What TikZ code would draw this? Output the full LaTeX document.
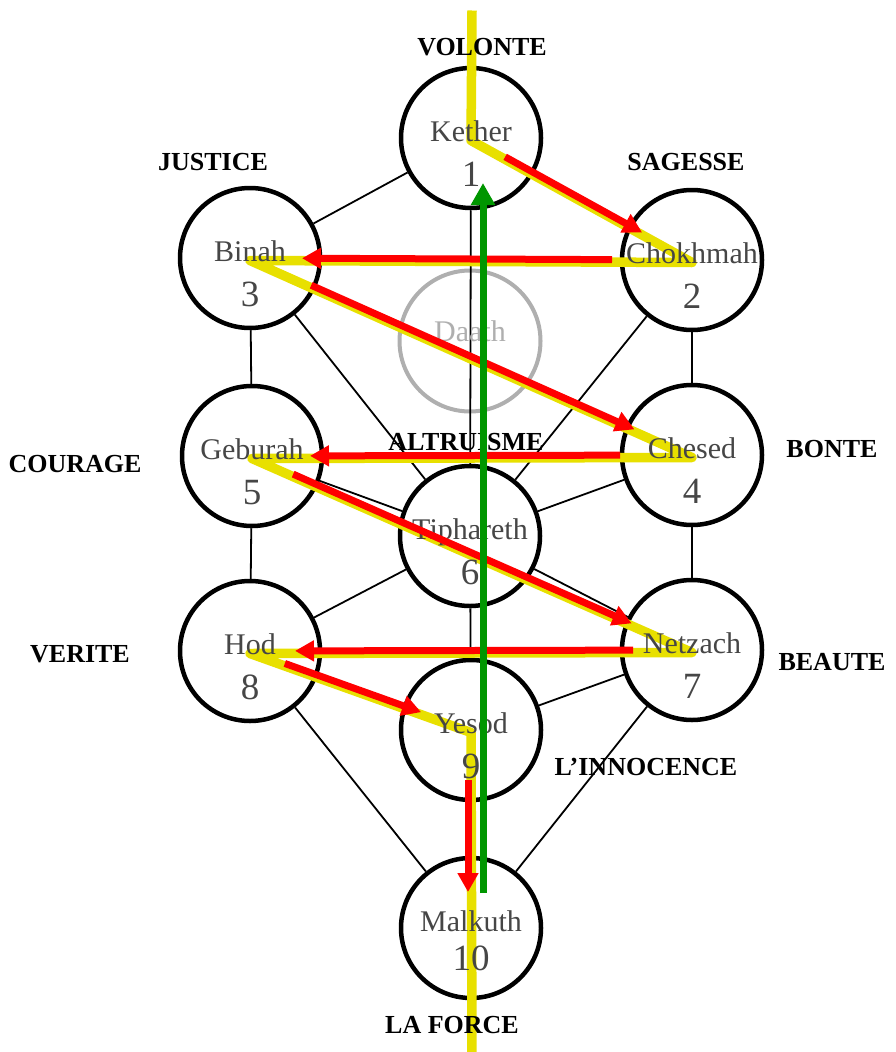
\documentclass[tikz,border=0pt]{standalone}
\usepackage{fontspec}
\setmainfont{Liberation Serif}
\usetikzlibrary{arrows.meta}

\definecolor{bolt}{RGB}{232,224,0}
\definecolor{namegray}{RGB}{70,70,70}
\definecolor{daathgray}{RGB}{175,175,175}
\definecolor{upgreen}{RGB}{0,150,0}

\begin{document}
\begin{tikzpicture}[x=1pt,y=-1pt,
    nametext/.style={font=\fontsize{30}{30}\selectfont, text=namegray, anchor=base, inner sep=0pt},
    numtext/.style={font=\fontsize{37}{37}\selectfont, text=namegray, anchor=base, inner sep=0pt},
    virtue/.style={font=\fontsize{26}{26}\selectfont\bfseries, anchor=base, inner sep=0pt},
    redarrow/.style={draw=red, line width=7pt, -{Triangle[length=19pt,width=20pt]}},
    greenarrow/.style={draw=upgreen, line width=7pt, -{Triangle[length=22pt,width=23pt]}}]

      \useasboundingbox (0,0) rectangle (895,1052);

      \begin{scope}[every node/.style={circle, draw, line width=4.5pt, fill=white, minimum size=140pt, inner sep=0pt}]
        \node (1)  at (471,138) {};
        \node (2)  at (692,260) {};
        \node (3)  at (250,258) {};
        \node (4)  at (692,455) {};
        \node (5)  at (252,456) {};
        \node (6)  at (470,536) {};
        \node (7)  at (692,650) {};
        \node (8)  at (250,651) {};
        \node (9)  at (471,730) {};
        \node (10) at (471,928) {};
      \end{scope}
      \node[circle, draw=daathgray, line width=4pt, minimum size=141pt, inner sep=0pt] (d) at (470,341) {};

      \coordinate (top)    at (472,8);
      \coordinate (bottom) at (472,1052);

      % the 22 paths
      \begin{scope}[every edge/.style={draw, line width=1.8pt}]
        \path (1) edge (2);
        \path (1) edge (3);
        \path (1) edge (6);
        \path (2) edge (3);
        \path (2) edge (4);
        \path (2) edge (6);
        \path (3) edge (5);
        \path (3) edge (6);
        \path (4) edge (5);
        \path (4) edge (6);
        \path (4) edge (7);
        \path (5) edge (6);
        \path (5) edge (8);
        \path (6) edge (7);
        \path (6) edge (8);
        \path (6) edge (9);
        \path (7) edge (8);
        \path (7) edge (9);
        \path (7) edge (10);
        \path (8) edge (9);
        \path (8) edge (10);
        \path (9) edge (10);
      \end{scope}

      % lightning
      \draw[bolt, line width=9.5pt, line join=round, transform canvas={yshift=-2.5pt}]
        (top) -- (1.center) -- (2.center) -- (3.center) -- (4.center) -- (5.center)
        -- (7.center) -- (8.center) -- (9.center) -- (bottom);

      \node[nametext] (t1)  at ([yshift=-3pt]1.center)  {Kether};
      \node[nametext] (t2)  at ([yshift=-3pt]2.center)  {Chokhmah};
      \node[nametext] (t3)  at ([yshift=-3pt]3.center)  {Binah};
      \node[nametext, text=daathgray] (td) at (d.center) {Daath};
      \node[nametext] (t4)  at ([yshift=-3pt]4.center)  {Chesed};
      \node[nametext] (t5)  at ([yshift=-3pt]5.center)  {Geburah};
      \node[nametext] (t6)  at ([yshift=-3pt]6.center)  {Tiphareth};
      \node[nametext] (t7)  at ([yshift=-3pt]7.center)  {Netzach};
      \node[nametext] (t8)  at ([yshift=-3pt]8.center)  {Hod};
      \node[nametext] (t9)  at ([yshift=-3pt]9.center)  {Yesod};
      \node[nametext] (t10) at ([yshift=-3pt]10.center) {Malkuth};

      \node[numtext] (n1)  at ([yshift=-48pt]1.center)  {1};
      \node[numtext] (n2)  at ([yshift=-48pt]2.center)  {2};
      \node[numtext] (n3)  at ([yshift=-48pt]3.center)  {3};
      \node[numtext] (n4)  at ([yshift=-48pt]4.center)  {4};
      \node[numtext] (n5)  at ([yshift=-48pt]5.center)  {5};
      \node[numtext] (n6)  at ([yshift=-48pt]6.center)  {6};
      \node[numtext] (n7)  at ([yshift=-48pt]7.center)  {7};
      \node[numtext] (n8)  at ([yshift=-48pt]8.center)  {8};
      \node[numtext] (n9)  at ([yshift=-48pt]9.center)  {9};
      \node[numtext] (n10) at ([yshift=-42pt]10.center) {10};

      \node[virtue] (volonte)   at (482,55)   {VOLONTE};
      \node[virtue] (justice)   at (213,170)  {JUSTICE};
      \node[virtue] (sagesse)   at (686,170)  {SAGESSE};
      \node[virtue] (altruisme) at (466,450)  {ALTRUISME};
      \node[virtue] (courage)   at (75,472)   {COURAGE};
      \node[virtue] (bonte)     at (832,457)  {BONTE};
      \node[virtue] (verite)    at (80,662)   {VERITE};
      \node[virtue] (beaute)    at (832,670)  {BEAUTE};
      \node[virtue] (innocence) at (646,775)  {L’INNOCENCE};
      \node[virtue] (force)     at (452,1033) {LA FORCE};

      % descent
      \draw[redarrow, shorten <=39pt, shorten >=57pt] (1.center) -- (2.center);
      \draw[redarrow, shorten <=80pt, shorten >=52pt] (2.center) -- (3.center);
      \draw[redarrow, shorten <=67pt, shorten >=63pt] (3.center) -- (4.center);
      \draw[redarrow, shorten <=72pt, shorten >=58pt] (4.center) -- (5.center);
      \draw[redarrow, shorten <=45pt, shorten >=66pt] (5.center) -- (7.center);
      \draw[redarrow, shorten <=59pt, shorten >=45pt] (7.center) -- (8.center);
      \draw[redarrow, shorten <=37pt, shorten >=53pt] (8.center) -- (9.center);
      \draw[redarrow, shorten <=50pt, shorten >=36pt, transform canvas={xshift=-3pt}] (9.center) -- (10.center);

      % ascent
      \draw[greenarrow, shorten <=35pt, shorten >=45pt, transform canvas={xshift=12pt}] (10.center) -- (1.center);

    \end{tikzpicture}
\end{document}
